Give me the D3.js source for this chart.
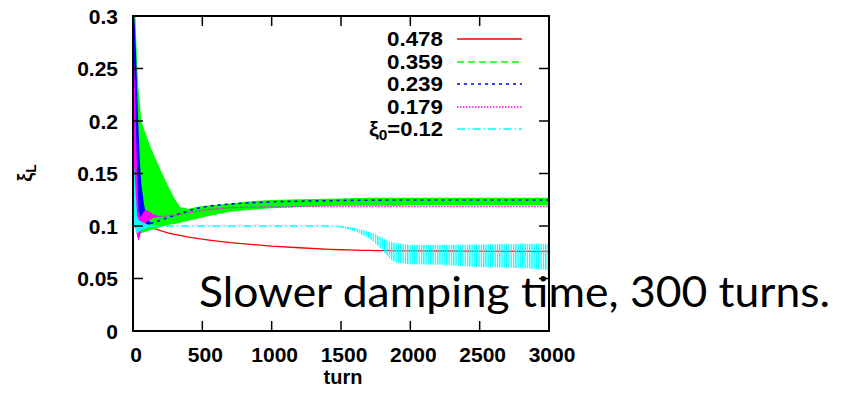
<!DOCTYPE html>
<html><head><meta charset="utf-8">
<script src="https://cdn.jsdelivr.net/npm/d3@7"></script>
<style>
body{margin:0;background:#fff;}
svg{display:block;}
</style></head>
<body><svg id="c" width="846" height="397"></svg>
<script>
// ---- data ----
const turns = [0,10,20,30,40,50,60,80,100,125,150,200,250,300,340,400,460,550,700,850,1000,1200,1420,1500,1550,1600,1650,1700,1750,1800,1850,1900,2000,2200,2500,2800,3000];

const seriesNames = ["0.478","0.359","0.239","0.179","ξ0=0.12"];

// red (0.478)
const redU = [0.478,0.3,0.2,0.14,0.115,0.106,0.102,0.1,0.099,0.0985,0.0978,0.0955,0.0935,0.092,0.091,0.0895,0.0883,0.0866,0.0841,0.0825,0.0808,0.0793,0.0778,0.0774,0.0772,0.077,0.0768,0.0767,0.0766,0.0765,0.0765,0.0764,0.0763,0.0762,0.076,0.0759,0.0758];
const redL = redU;
// green (0.359)
const greenU = [0.36,0.33,0.29,0.255,0.23,0.215,0.2,0.192,0.185,0.176,0.168,0.153,0.139,0.126,0.118,0.1165,0.118,0.1195,0.1215,0.1235,0.1248,0.1255,0.126,0.1263,0.1265,0.1266,0.1267,0.1268,0.1268,0.1268,0.1268,0.1268,0.1268,0.1268,0.1268,0.1268,0.1268];
const greenL = [0.3,0.15,0.1,0.09,0.091,0.092,0.093,0.094,0.095,0.096,0.097,0.099,0.101,0.102,0.103,0.105,0.107,0.1095,0.1136,0.1155,0.1168,0.118,0.119,0.1192,0.1192,0.1193,0.1193,0.1193,0.1194,0.1194,0.1194,0.1194,0.1195,0.1195,0.1195,0.1195,0.1195];
// blue (0.239)
const blueU = [0.31,0.3,0.27,0.23,0.19,0.16,0.14,0.12,0.108,0.103,0.103,0.1055,0.108,0.11,0.112,0.1145,0.1168,0.119,0.121,0.1222,0.123,0.1236,0.1241,0.1243,0.1244,0.1245,0.1245,0.1246,0.1246,0.1247,0.1247,0.1247,0.1248,0.1248,0.1248,0.1248,0.1248];
const blueL = [0.22,0.17,0.13,0.11,0.1,0.097,0.096,0.098,0.1,0.102,0.103,0.1055,0.108,0.11,0.112,0.1145,0.1168,0.119,0.121,0.1222,0.123,0.1236,0.1241,0.1243,0.1244,0.1245,0.1245,0.1246,0.1246,0.1247,0.1247,0.1247,0.1248,0.1248,0.1248,0.1248,0.1248];
// magenta (0.179)
const magU = [0.28,0.25,0.2,0.15,0.115,0.108,0.11,0.114,0.115,0.113,0.111,0.109,0.1095,0.1105,0.111,0.1125,0.114,0.1158,0.1175,0.118,0.1182,0.1184,0.1184,0.1184,0.1184,0.1184,0.1184,0.1184,0.1184,0.1184,0.1184,0.1184,0.1184,0.1184,0.1184,0.1184,0.1184];
const magL = [0.18,0.13,0.1,0.09,0.086,0.09,0.096,0.101,0.104,0.106,0.108,0.109,0.1095,0.1105,0.111,0.1125,0.114,0.1158,0.1175,0.118,0.1182,0.1184,0.1184,0.1184,0.1184,0.1184,0.1184,0.1184,0.1184,0.1184,0.1184,0.1184,0.1184,0.1184,0.1184,0.1184,0.1184];
// cyan (0.12)
const cyanU = [0.16,0.155,0.13,0.11,0.106,0.105,0.104,0.103,0.102,0.1005,0.1,0.1,0.1,0.1,0.1,0.1,0.1,0.1,0.1,0.1,0.1,0.1,0.1,0.0995,0.099,0.098,0.0965,0.0946,0.092,0.0886,0.085,0.0835,0.082,0.082,0.0825,0.083,0.083];
const cyanL = [0.12,0.1,0.095,0.093,0.094,0.095,0.096,0.097,0.098,0.0995,0.1,0.1,0.1,0.1,0.1,0.1,0.1,0.1,0.1,0.1,0.1,0.1,0.1,0.099,0.097,0.095,0.092,0.0887,0.083,0.077,0.069,0.065,0.0635,0.063,0.061,0.06,0.058];

const xTicks = [0,500,1000,1500,2000,2500,3000];
const yTicks = [0,0.05,0.1,0.15,0.2,0.25,0.3];
const yTickLabels = ["0","0.05","0.1","0.15","0.2","0.25","0.3"];
const annotation = "Slower damping time, 300 turns.";

// ---- drawing ----
const svg = d3.select("#c");
const L=133, R=549, T=16, B=331;
const x = d3.scaleLinear().domain([0,3000]).range([L,R]);
const y = d3.scaleLinear().domain([0,0.3]).range([B,T]);
const FONT = "Liberation Sans, Arial, sans-serif";

const defs = svg.append("defs");
defs.append("clipPath").attr("id","clip").append("rect")
  .attr("x",L).attr("y",T).attr("width",R-L).attr("height",B-T);
const pat = defs.append("pattern").attr("id","cyanStripe").attr("patternUnits","userSpaceOnUse")
  .attr("width",2.3).attr("height",6);
pat.append("rect").attr("x",0).attr("y",0).attr("width",1.3).attr("height",6).attr("fill","#00ffff");

const series = [
  {name:seriesNames[0], U:redU, L:redL, color:"#ff0000", dash:null, w:1.3},
  {name:seriesNames[1], U:greenU, L:greenL, color:"#00ff00", dash:"7,4", w:1.3},
  {name:seriesNames[2], U:blueU, L:blueL, color:"#0000ff", dash:"3,4", w:1.6},
  {name:seriesNames[3], U:magU, L:magL, color:"#ff00ff", dash:"1.5,1.5", w:1.3},
  {name:seriesNames[4], U:cyanU, L:cyanL, color:"#00ffff", dash:"8,3,1.5,3", w:1.3, striped:true}
];

const g = svg.append("g").attr("clip-path","url(#clip)");
series.forEach(s=>{
  const idx = d3.range(turns.length);
  if (s.striped) {
    const early = d3.area().defined(i=>turns[i]<=150).x(i=>x(turns[i])).y0(i=>y(s.L[i])).y1(i=>y(s.U[i]));
    g.append("path").attr("d",early(idx)).attr("fill",s.color);
    const late = d3.area().defined(i=>turns[i]>=1420).x(i=>x(turns[i])).y0(i=>y(s.L[i])).y1(i=>y(s.U[i]));
    g.append("path").attr("d",late(idx)).attr("fill","url(#cyanStripe)");
  } else if (s.U!==s.L) {
    const area = d3.area().x(i=>x(turns[i])).y0(i=>y(s.L[i])).y1(i=>y(s.U[i]));
    g.append("path").attr("d",area(idx)).attr("fill",s.color);
  }
  const line = d3.line().defined(i=>(s.U[i]-s.L[i])<0.0035 || s.U===s.L)
    .x(i=>x(turns[i])).y(i=>y((s.U[i]+s.L[i])/2));
  g.append("path").attr("d",line(idx)).attr("fill","none").attr("stroke",s.color)
    .attr("stroke-width",s.w).attr("stroke-dasharray",s.dash);
});

// frame
svg.append("rect").attr("x",L).attr("y",T).attr("width",R-L).attr("height",B-T)
  .attr("fill","none").attr("stroke","#000").attr("stroke-width",2);
const tl=10;
xTicks.forEach(t=>{
  svg.append("line").attr("x1",x(t)).attr("x2",x(t)).attr("y1",B).attr("y2",B-tl).attr("stroke","#000").attr("stroke-width",1.5);
  svg.append("line").attr("x1",x(t)).attr("x2",x(t)).attr("y1",T).attr("y2",T+tl).attr("stroke","#000").attr("stroke-width",1.5);
  svg.append("text").attr("x",x(t)+3).attr("y",362).attr("text-anchor","middle")
    .attr("font-family",FONT).attr("font-weight","bold").attr("font-size",21).text(t);
});
yTicks.forEach((v,i)=>{
  svg.append("line").attr("x1",L).attr("x2",L+tl).attr("y1",y(v)).attr("y2",y(v)).attr("stroke","#000").attr("stroke-width",1.5);
  svg.append("line").attr("x1",R).attr("x2",R-tl).attr("y1",y(v)).attr("y2",y(v)).attr("stroke","#000").attr("stroke-width",1.5);
  svg.append("text").attr("x",118).attr("y",y(v)+7.5).attr("text-anchor","end")
    .attr("font-family",FONT).attr("font-weight","bold").attr("font-size",21).text(yTickLabels[i]);
});

// axis titles
svg.append("text").attr("x",343).attr("y",384).attr("text-anchor","middle")
  .attr("font-family",FONT).attr("font-weight","bold").attr("font-size",20).text("turn");
const yl = svg.append("text").attr("transform","translate(32,173) rotate(-90)").attr("text-anchor","middle")
  .attr("font-family",FONT).attr("font-weight","bold").attr("font-size",20);
yl.append("tspan").text("ξ");
yl.append("tspan").attr("font-size",14).attr("dy",4).text("L");

// legend
const legY = [39,62,84,107,129];
series.forEach((s,i)=>{
  const isXi = s.name.startsWith("ξ0");
  const t = svg.append("text").attr("x",443).attr("y",legY[i]+7).attr("text-anchor","end")
    .attr("font-family",FONT).attr("font-weight","bold").attr("font-size",20)
    .attr("textLength", isXi ? 74 : 56).attr("lengthAdjust","spacingAndGlyphs");
  if (isXi) {
    t.append("tspan").text("ξ");
    t.append("tspan").attr("font-size",14).attr("dy",4).text("0");
    t.append("tspan").attr("dy",-4).text(s.name.slice(2));
  } else t.text(s.name);
  svg.append("line").attr("x1",457).attr("x2",522).attr("y1",legY[i]).attr("y2",legY[i])
    .attr("stroke",s.color).attr("stroke-width",s.w).attr("stroke-dasharray",s.dash);
});

// annotation
svg.append("text").attr("x",199).attr("y",307).attr("font-family","Lato, 'Open Sans', sans-serif")
  .attr("font-size",43).attr("fill","#000").attr("textLength",631).attr("lengthAdjust","spacingAndGlyphs")
  .text(annotation);
</script></body></html>
